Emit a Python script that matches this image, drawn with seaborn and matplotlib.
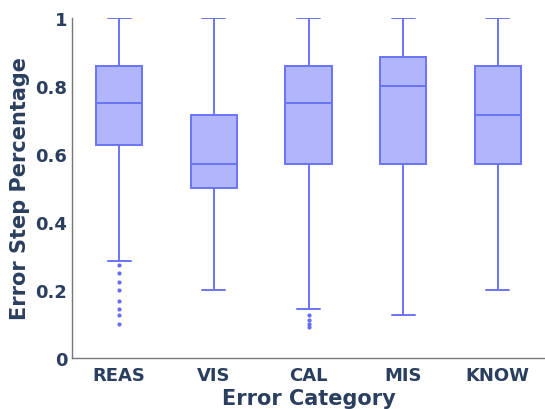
import pandas as pd
import matplotlib.pyplot as plt
import seaborn as sns

# valeurs (quartiles, moustaches, points isolés)
categories = ["REAS", "VIS", "CAL", "MIS", "KNOW"]
q1 = [0.625, 0.5, 0.5714, 0.5714, 0.5714]
medians = [0.75, 0.5714, 0.75, 0.8, 0.7143]
q3 = [0.8571, 0.7143, 0.8571, 0.885, 0.8571]
whisker_low = [0.2857, 0.2, 0.1429, 0.125, 0.2]
whisker_high = [1.0, 1.0, 1.0, 1.0, 1.0]
reas_outliers = [0.2727, 0.25, 0.2222, 0.2, 0.1667, 0.1429, 0.125, 0.1]
cal_outliers = [0.125, 0.1111, 0.1, 0.0909]
outliers = [reas_outliers, [], cal_outliers, [], []]
y_ticks = [0, 0.2, 0.4, 0.6, 0.8, 1]
y_tick_labels = ["0", "0.2", "0.4", "0.6", "0.8", "1"]

# table longue pour seaborn : blocs repetes pour retrouver les quartiles
rows = []
for i, cat in enumerate(categories):
    vals = outliers[i] + [whisker_low[i]] + [q1[i]] * 50 + [medians[i]] * 50 \
        + [q3[i]] * 50 + [whisker_high[i]]
    for v in vals:
        rows.append({"category": cat, "value": v})
df = pd.DataFrame(rows)

sns.set_style("white")
plt.rcParams['font.family'] = ['DejaVu Sans']

text_color = "#2a3f5f"
line_color = "#6a74f7"

fig = plt.figure(figsize=(5.45, 4.1), dpi=100)
ax = fig.add_axes([72 / 545, 1 - 359 / 410, 473 / 545, (359 - 18.7) / 410])

sns.boxplot(data=df, x="category", y="value", order=categories, ax=ax,
            color="#b1b6fc", saturation=1, linecolor=line_color,
            linewidth=1.4, width=0.49, fliersize=3,
            flierprops=dict(marker="o", markerfacecolor="#636efa",
                            markeredgewidth=0))

ax.set_xlim(-0.5, 4.5)
ax.set_ylim(0, 1)
ax.set_yticks(y_ticks)
ax.set_yticklabels(y_tick_labels)

for s in ["top", "right"]:
    ax.spines[s].set_visible(False)
for s in ["left", "bottom"]:
    ax.spines[s].set_color("#777777")
    ax.spines[s].set_linewidth(1)

ax.tick_params(axis="both", length=0, labelsize=13, labelcolor=text_color)
ax.tick_params(axis="y", pad=3.5)
ax.tick_params(axis="x", pad=6)
for lab in ax.get_xticklabels() + ax.get_yticklabels():
    lab.set_fontweight("bold")

ax.set_xlabel("Error Category", fontsize=15, fontweight="bold",
              color=text_color, labelpad=2.5)
ax.set_ylabel("Error Step Percentage", fontsize=15, fontweight="bold",
              color=text_color, labelpad=4)

fig.savefig("out.png", dpi=100)
